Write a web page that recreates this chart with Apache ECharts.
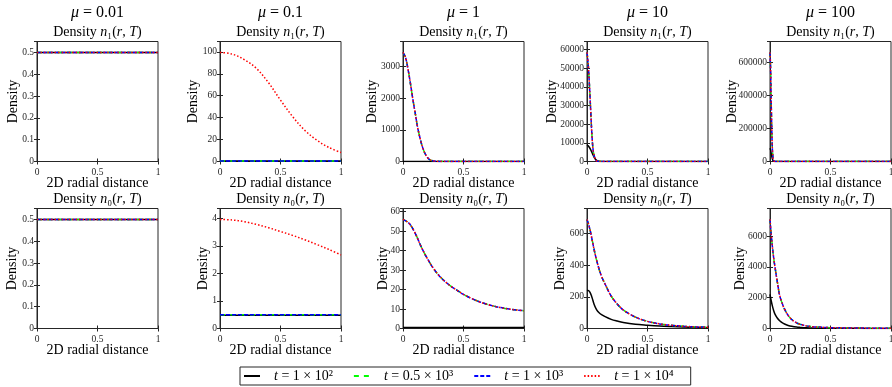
<!DOCTYPE html>
<html><head><meta charset="utf-8">
<script src="https://cdn.jsdelivr.net/npm/echarts@6/dist/echarts.min.js"></script>
<style>html,body{margin:0;padding:0;background:#fff}#c{width:892px;height:387px}</style>
</head><body><div id="c"></div>
<script>
// ---------------- DATA ----------------
const seriesNames = ['t = 1 × 10²', 't = 0.5 × 10³', 't = 1 × 10³', 't = 1 × 10⁴'];
const muLabels = ['0.01', '0.1', '1', '10', '100'];
const xTicks = [0, 0.5, 1];

// Top row: n1(r,T)
// mu = 0.01
const rA = [0, 0.25, 0.5, 0.75, 1];
const a_t1 = [0.5, 0.5, 0.5, 0.5, 0.5];
const a_t2 = [0.5, 0.5, 0.5, 0.5, 0.5];
const a_t3 = [0.5, 0.5, 0.5, 0.5, 0.5];
const a_t4 = [0.5, 0.5, 0.5, 0.5, 0.5];
// mu = 0.1
const rB = [0, 0.1, 0.2, 0.3, 0.4, 0.5, 0.6, 0.7, 0.8, 0.9, 1];
const b_t1 = [0.5, 0.5, 0.5, 0.5, 0.5, 0.5, 0.5, 0.5, 0.5, 0.5, 0.5];
const b_t2 = [0.5, 0.5, 0.5, 0.5, 0.5, 0.5, 0.5, 0.5, 0.5, 0.5, 0.5];
const b_t3 = [0.5, 0.5, 0.5, 0.5, 0.5, 0.5, 0.5, 0.5, 0.5, 0.5, 0.5];
const b_t4 = [99.5, 98, 93, 85, 72, 56, 41, 28.5, 19.5, 12.8, 8.2];
// mu = 1
const rC = [0, 0.02, 0.04, 0.06, 0.08, 0.1, 0.12, 0.14, 0.16, 0.18, 0.2, 0.22, 0.25, 0.3, 0.4, 0.6, 1];
const c_t1 = [0.5, 0.5, 0.5, 0.5, 0.5, 0.5, 0.5, 0.5, 0.5, 0.5, 0.5, 0.5, 0.5, 0.5, 0.5, 0.5, 0.5];
const c_t2 = [3450, 3300, 2950, 2500, 2000, 1550, 1100, 750, 470, 270, 140, 60, 20, 3, 0, 0, 0];
const c_t3 = [3450, 3300, 2950, 2500, 2000, 1550, 1100, 750, 470, 270, 140, 60, 20, 3, 0, 0, 0];
const c_t4 = [3450, 3300, 2950, 2500, 2000, 1550, 1100, 750, 470, 270, 140, 60, 20, 3, 0, 0, 0];
// mu = 10
const rD = [0, 0.01, 0.02, 0.03, 0.04, 0.05, 0.06, 0.07, 0.08, 0.1, 0.15, 0.3, 1];
const d_t1 = [9000, 8400, 7500, 6400, 5000, 3500, 2200, 1200, 600, 150, 10, 0, 0];
const d_t2 = [58500, 52000, 41000, 28000, 15000, 6500, 2800, 1200, 400, 50, 0, 0, 0];
const d_t3 = [58500, 52000, 41000, 28000, 15000, 6500, 2800, 1200, 400, 50, 0, 0, 0];
const d_t4 = [58500, 52000, 41000, 28000, 15000, 6500, 2800, 1200, 400, 50, 0, 0, 0];
// mu = 100
const rE = [0, 0.005, 0.01, 0.015, 0.02, 0.025, 0.03, 0.04, 0.06, 1];
const e_t1 = [80000, 70000, 50000, 30000, 15000, 6000, 2000, 300, 0, 0];
const e_t2 = [660000, 560000, 360000, 180000, 70000, 22000, 6000, 500, 0, 0];
const e_t3 = [660000, 560000, 360000, 180000, 70000, 22000, 6000, 500, 0, 0];
const e_t4 = [660000, 560000, 360000, 180000, 70000, 22000, 6000, 500, 0, 0];

// Bottom row: n0(r,T)
// mu = 0.01
const rF = [0, 0.25, 0.5, 0.75, 1];
const f_t1 = [0.5, 0.5, 0.5, 0.5, 0.5];
const f_t2 = [0.5, 0.5, 0.5, 0.5, 0.5];
const f_t3 = [0.5, 0.5, 0.5, 0.5, 0.5];
const f_t4 = [0.5, 0.5, 0.5, 0.5, 0.5];
// mu = 0.1
const rG = [0, 0.1, 0.2, 0.3, 0.4, 0.5, 0.6, 0.7, 0.8, 0.9, 1];
const g_t1 = [0.48, 0.48, 0.48, 0.48, 0.48, 0.48, 0.48, 0.48, 0.48, 0.48, 0.48];
const g_t2 = [0.5, 0.5, 0.5, 0.5, 0.5, 0.5, 0.5, 0.5, 0.5, 0.5, 0.5];
const g_t3 = [0.5, 0.5, 0.5, 0.5, 0.5, 0.5, 0.5, 0.5, 0.5, 0.5, 0.5];
const g_t4 = [3.96, 3.94, 3.88, 3.78, 3.66, 3.52, 3.38, 3.22, 3.05, 2.87, 2.67];
// mu = 1
const rH = [0, 0.05, 0.1, 0.15, 0.2, 0.25, 0.3, 0.35, 0.4, 0.45, 0.5, 0.6, 0.7, 0.8, 0.9, 1];
const h_t1 = [0.5, 0.5, 0.5, 0.5, 0.5, 0.5, 0.5, 0.5, 0.5, 0.5, 0.5, 0.5, 0.5, 0.5, 0.5, 0.5];
const h_t2 = [56, 54, 49, 42, 36, 31, 27, 24, 21.5, 19.5, 17.5, 14.5, 12.3, 10.8, 9.8, 9.1];
const h_t3 = [56, 54, 49, 42, 36, 31, 27, 24, 21.5, 19.5, 17.5, 14.5, 12.3, 10.8, 9.8, 9.1];
const h_t4 = [56, 54, 49, 42, 36, 31, 27, 24, 21.5, 19.5, 17.5, 14.5, 12.3, 10.8, 9.8, 9.1];
// mu = 10
const rI = [0, 0.02, 0.04, 0.06, 0.08, 0.1, 0.12, 0.15, 0.2, 0.25, 0.3, 0.4, 0.5, 0.6, 0.7, 0.8, 0.9, 1];
const i_t1 = [242, 235, 200, 150, 118, 100, 88, 75, 58, 47, 38, 27, 21, 16, 12.5, 9.5, 7, 5];
const i_t2 = [690, 640, 570, 495, 430, 375, 330, 280, 205, 155, 117, 72, 45, 29, 20, 14, 10, 8];
const i_t3 = [690, 640, 570, 495, 430, 375, 330, 280, 205, 155, 117, 72, 45, 29, 20, 14, 10, 8];
const i_t4 = [690, 640, 570, 495, 430, 375, 330, 280, 205, 155, 117, 72, 45, 29, 20, 14, 10, 8];
// mu = 100
const rJ = [0, 0.01, 0.02, 0.03, 0.04, 0.06, 0.08, 0.1, 0.12, 0.15, 0.18, 0.22, 0.25, 0.3, 0.36, 0.5, 0.7, 1];
const j_t1 = [2220, 1800, 1450, 1170, 950, 680, 500, 380, 290, 200, 140, 90, 70, 45, 30, 18, 10, 5];
const j_t2 = [7080, 6100, 5300, 4600, 4050, 3050, 2150, 1650, 1260, 850, 580, 360, 270, 170, 110, 55, 30, 15];
const j_t3 = [7080, 6100, 5300, 4600, 4050, 3050, 2150, 1650, 1260, 850, 580, 360, 270, 170, 110, 55, 30, 15];
const j_t4 = [7080, 6100, 5300, 4600, 4050, 3050, 2150, 1650, 1260, 850, 580, 360, 270, 170, 110, 55, 30, 15];

// ---------------- LAYOUT / STYLE ----------------
const FONT = 'Liberation Serif';
const panels = [
  {r: rA, s: [a_t1, a_t2, a_t3, a_t4], step: 0.1,    gap: 17, sub: '₁'},
  {r: rB, s: [b_t1, b_t2, b_t3, b_t4], step: 20,     gap: 20, sub: '₁'},
  {r: rC, s: [c_t1, c_t2, c_t3, c_t4], step: 1000,   gap: 24, sub: '₁'},
  {r: rD, s: [d_t1, d_t2, d_t3, d_t4], step: 10000,  gap: 28, sub: '₁'},
  {r: rE, s: [e_t1, e_t2, e_t3, e_t4], step: 200000, gap: 31, sub: '₁'},
  {r: rF, s: [f_t1, f_t2, f_t3, f_t4], step: 0.1,    gap: 18, sub: '₀'},
  {r: rG, s: [g_t1, g_t2, g_t3, g_t4], step: 1,      gap: 10, sub: '₀'},
  {r: rH, s: [h_t1, h_t2, h_t3, h_t4], step: 10,     gap: 13, sub: '₀'},
  {r: rI, s: [i_t1, i_t2, i_t3, i_t4], step: 200,    gap: 20, sub: '₀'},
  {r: rJ, s: [j_t1, j_t2, j_t3, j_t4], step: 2000,   gap: 23, sub: '₀'}
];
const colLeft = [37, 220, 403, 587, 770];
const PW = 121, PH = 120;
const rowTop = [41.5, 208.5];
const lineStyles = [
  {color: '#000000', width: 1.5, type: 'solid'},
  {color: '#00ff00', width: 1.5, type: [5, 5]},
  {color: '#0000ff', width: 1.5, type: [4, 2]},
  {color: '#ff0000', width: 1.5, type: [1.5, 2]}
];
const fmt = v => String(Math.round(v * 1e6) / 1e6);

const grid = [], xAxis = [], yAxis = [], series = [], title = [];
panels.forEach((p, k) => {
  const col = k % 5, row = Math.floor(k / 5);
  const left = colLeft[col], top = rowTop[row];
  let dmax = 0;
  p.s.forEach(a => a.forEach(v => { if (v > dmax) dmax = v; }));
  const ymax = dmax * 1.1;
  grid.push({left: left, top: top, width: PW, height: PH, show: true, borderColor: '#262626', borderWidth: 1, backgroundColor: '#fff', outerBoundsMode: 'none', containLabel: false});
  const axLine = {show: true, lineStyle: {color: '#262626', width: 1}};
  const tick = {show: true, inside: true, length: 3, lineStyle: {color: '#262626'}};
  xAxis.push({type: 'value', gridIndex: k, position: 'bottom', min: 0, max: 1, interval: 0.5,
    axisLine: axLine, axisTick: tick, splitLine: {show: false},
    axisLabel: {fontFamily: FONT, fontSize: 9.5, color: '#262626', margin: 6, formatter: fmt, showMaxLabel: true, showMinLabel: true},
    name: '2D radial distance', nameLocation: 'middle', nameGap: 15, nameMoveOverlap: false,
    nameTextStyle: {fontFamily: FONT, fontSize: 14, color: '#000'}});
  xAxis.push({type: 'value', gridIndex: k, position: 'top', min: 0, max: 1, interval: 0.5,
    axisLine: axLine, axisTick: tick, splitLine: {show: false}, axisLabel: {show: false}});
  yAxis.push({type: 'value', gridIndex: k, position: 'left', min: 0, max: ymax, interval: p.step,
    axisLine: axLine, axisTick: tick, splitLine: {show: false},
    axisLabel: {fontFamily: FONT, fontSize: 9.5, color: '#262626', margin: 3, formatter: fmt, showMaxLabel: false},
    name: 'Density', nameLocation: 'middle', nameGap: p.gap, nameRotate: 90, nameMoveOverlap: false,
    nameTextStyle: {fontFamily: FONT, fontSize: 14, color: '#000'}});
  yAxis.push({type: 'value', gridIndex: k, position: 'right', min: 0, max: ymax, interval: p.step,
    axisLine: axLine, axisTick: tick, splitLine: {show: false}, axisLabel: {show: false}});
  p.s.forEach((vals, si) => {
    series.push({type: 'line', name: seriesNames[si], xAxisIndex: 2 * k, yAxisIndex: 2 * k,
      data: p.r.map((x, i) => [x, vals[i]]), symbol: 'none', smooth: 0.35,
      lineStyle: lineStyles[si], itemStyle: {color: lineStyles[si].color}, z: 2 + si, silent: true});
  });
  title.push({text: 'Density {i|n}' + p.sub + '({i|r}, {i|T})', left: left + PW / 2, top: row === 0 ? 25 : 192,
    textAlign: 'center', padding: 0,
    textStyle: {fontFamily: FONT, fontSize: 14, fontWeight: 'normal', color: '#000',
      rich: {i: {fontFamily: FONT, fontSize: 14, fontStyle: 'italic', color: '#000'}}}});
  if (row === 0) {
    title.push({text: '{i|μ} = ' + muLabels[col], left: left + PW / 2, top: 5, textAlign: 'center', padding: 0,
      textStyle: {fontFamily: FONT, fontSize: 16, fontWeight: 'normal', color: '#000',
        rich: {i: {fontFamily: FONT, fontSize: 16, fontStyle: 'italic', color: '#000'}}}});
  }
});

const chart = echarts.init(document.getElementById('c'), null, {renderer: 'canvas'});
chart.setOption({
  backgroundColor: '#fff',
  animation: false,
  title: title,
  grid: grid,
  xAxis: xAxis,
  yAxis: yAxis,
  series: series,
  legend: {show: true, left: 240, top: 367, orient: 'horizontal', selectedMode: false,
    itemWidth: 16, itemHeight: 8, itemGap: 20, padding: [2, 17, 2, 3],
    borderColor: '#262626', borderWidth: 1, backgroundColor: '#fff',
    itemStyle: {opacity: 0},
    data: seriesNames,
    formatter: n => '{sp| }{i|t}' + n.slice(1),
    textStyle: {fontFamily: FONT, fontSize: 14, color: '#000',
      rich: {sp: {width: 9, fontSize: 14}, i: {fontFamily: FONT, fontSize: 14, fontStyle: 'italic', color: '#000'}}}}
});
</script></body></html>
